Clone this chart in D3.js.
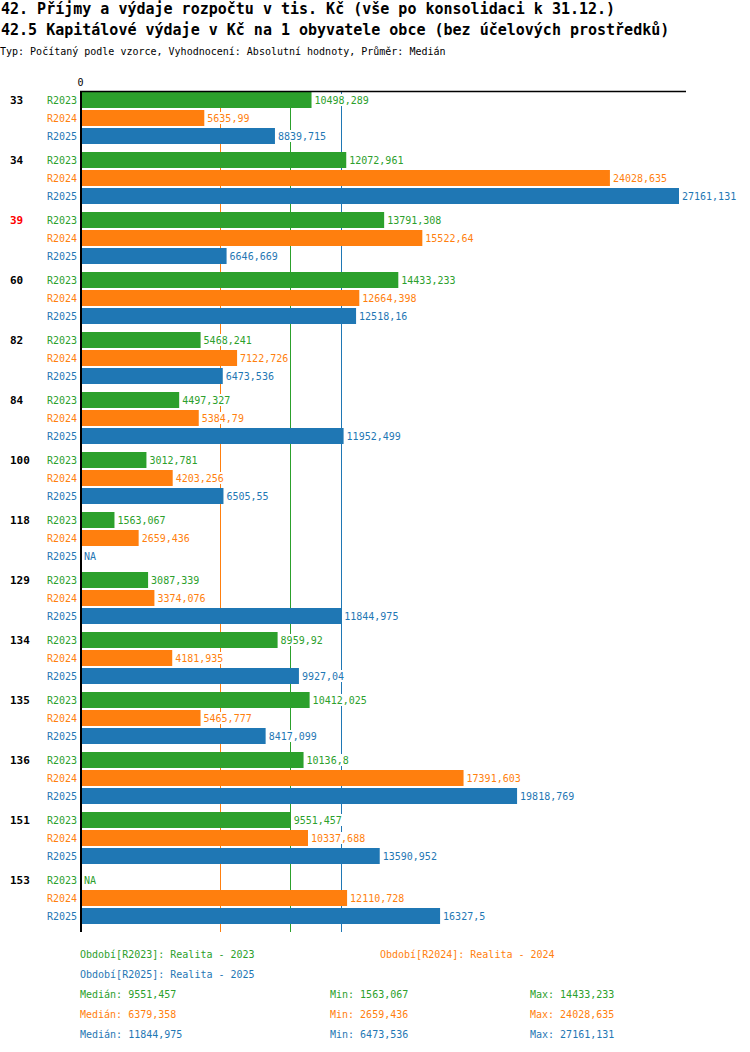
<!DOCTYPE html>
<html>
<head>
<meta charset="utf-8">
<script src="https://cdn.jsdelivr.net/npm/d3@7"></script>
<style>
  body { margin: 0; background: #fff; }
  svg text { font-family: "DejaVu Sans Mono", "Liberation Mono", monospace; }
</style>
</head>
<body>
<svg id="chart" width="750" height="1052"></svg>
<script>
const groups = ['33', '34', '39', '60', '82', '84', '100', '118', '129', '134', '135', '136', '151', '153'];
const highlighted = ['39'];
const periods = ['R2023', 'R2024', 'R2025'];
const periodNames = ['Realita - 2023', 'Realita - 2024', 'Realita - 2025'];
const r2023 = [10498.289, 12072.961, 13791.308, 14433.233, 5468.241, 4497.327, 3012.781, 1563.067, 3087.339, 8959.92, 10412.025, 10136.8, 9551.457, null];
const r2024 = [5635.99, 24028.635, 15522.64, 12664.398, 7122.726, 5384.79, 4203.256, 2659.436, 3374.076, 4181.935, 5465.777, 17391.603, 10337.688, 12110.728];
const r2025 = [8839.715, 27161.131, 6646.669, 12518.16, 6473.536, 11952.499, 6505.55, null, 11844.975, 9927.04, 8417.099, 19818.769, 13590.952, 16327.5];
const seriesValues = [r2023, r2024, r2025];
const colors = ['#2ca02c', '#ff7f0e', '#1f77b4'];

const svg = d3.select('#chart');
const fmt = v => String(+v.toFixed(3)).replace('.', ',');

// titles
svg.append('text').attr('x', 1).attr('y', 14).attr('font-size', 15).attr('font-weight', 'bold')
  .text('42. Příjmy a výdaje rozpočtu v tis. Kč (vše po konsolidaci k 31.12.)');
svg.append('text').attr('x', 1).attr('y', 35).attr('font-size', 15).attr('font-weight', 'bold')
  .text('42.5 Kapitálové výdaje v Kč na 1 obyvatele obce (bez účelových prostředků)');
svg.append('text').attr('x', 0).attr('y', 55).attr('font-size', 10)
  .text('Typ: Počítaný podle vzorce, Vyhodnocení: Absolutní hodnoty, Průměr: Medián');

const xMax = d3.max(seriesValues.flat());
const x = d3.scaleLinear().domain([0, xMax]).range([80, 679]);
const y0 = d3.scaleBand().domain(groups).range([92, 932]);
const y1 = d3.scaleBand().domain(periods).range([0, 54]);
const barH = y1.bandwidth() - 2;

const stats = seriesValues.map((vals, i) => {
  const v = vals.filter(d => d != null);
  return { median: d3.median(v), min: d3.min(v), max: d3.max(v), color: colors[i] };
});

// median lines
const medianLines = svg.append('g').attr('class', 'medians');
stats.forEach(s => {
  const mx = Math.floor(x(s.median)) + 0.5;
  medianLines.append('line')
    .attr('x1', mx).attr('x2', mx)
    .attr('y1', 92).attr('y2', 932)
    .attr('shape-rendering', 'crispEdges')
    .style('stroke', s.color)
    .style('stroke-width', '1px');
});

// "0" tick via axis
const axis = svg.append('g').attr('transform', 'translate(0,86)')
  .call(d3.axisTop(x).tickValues([0]).tickSize(0).tickPadding(0));
axis.select('.domain').remove();
axis.selectAll('text').attr('font-size', 10).attr('font-family', '"DejaVu Sans Mono", monospace').attr('fill', '#000');

const rows = groups.flatMap((g, gi) => periods.map((p, pi) => ({
  group: g, period: p, pi, value: seriesValues[pi][gi]
})));

// bars
svg.append('g').selectAll('rect')
  .data(rows.filter(d => d.value != null))
  .join('rect')
  .attr('x', x(0))
  .attr('y', d => y0(d.group) + y1(d.period))
  .attr('width', d => x(d.value) - x(0))
  .attr('height', barH)
  .attr('fill', d => colors[d.pi]);

// value labels with white background
const labels = svg.append('g').selectAll('g')
  .data(rows)
  .join('g')
  .attr('transform', d => `translate(${d.value != null ? x(d.value) + 3 : x(0) + 4},${y0(d.group) + y1(d.period) + barH / 2})`);
labels.append('rect')
  .attr('x', -1).attr('y', -6).attr('height', 12)
  .attr('width', d => (d.value != null ? fmt(d.value) : 'NA').length * 6.02 + 2)
  .attr('fill', '#fff');
labels.append('text')
  .attr('font-size', 10)
  .attr('dy', '0.35em')
  .attr('fill', d => colors[d.pi])
  .text(d => d.value != null ? fmt(d.value) : 'NA');

// period labels
svg.append('g').selectAll('text')
  .data(rows)
  .join('text')
  .attr('x', 77)
  .attr('y', d => y0(d.group) + y1(d.period) + barH / 2)
  .attr('dy', '0.35em')
  .attr('text-anchor', 'end')
  .attr('font-size', 10)
  .attr('fill', d => colors[d.pi])
  .text(d => d.period);

// group labels
svg.append('g').selectAll('text')
  .data(groups)
  .join('text')
  .attr('x', 10)
  .attr('y', d => y0(d) + barH / 2)
  .attr('dy', '0.35em')
  .attr('font-size', 11)
  .attr('font-weight', 'bold')
  .attr('fill', d => highlighted.includes(d) ? '#ff0000' : '#000')
  .text(d => d);

// axis lines
svg.append('line').attr('x1', 80).attr('x2', 686).attr('y1', 91.5).attr('y2', 91.5)
  .attr('stroke', '#000').attr('stroke-width', 1.5);
svg.append('line').attr('x1', 81).attr('x2', 81).attr('y1', 91).attr('y2', 932)
  .attr('stroke', '#000').attr('stroke-width', 2);

// legend
const legendPos = [[80, 954], [380, 954], [80, 974]];
svg.append('g').selectAll('text')
  .data(periods)
  .join('text')
  .attr('x', (d, i) => legendPos[i][0])
  .attr('y', (d, i) => legendPos[i][1])
  .attr('dy', '0.35em')
  .attr('font-size', 10)
  .attr('fill', (d, i) => colors[i])
  .text((d, i) => `Období[${d}]: ${periodNames[i]}`);

const statRows = svg.append('g').selectAll('g')
  .data(stats)
  .join('g')
  .attr('transform', (d, i) => `translate(0,${994 + i * 20})`)
  .attr('fill', d => d.color);
statRows.append('text').attr('x', 80).attr('dy', '0.35em').attr('font-size', 10).text(d => `Medián: ${fmt(d.median)}`);
statRows.append('text').attr('x', 330).attr('dy', '0.35em').attr('font-size', 10).text(d => `Min: ${fmt(d.min)}`);
statRows.append('text').attr('x', 530).attr('dy', '0.35em').attr('font-size', 10).text(d => `Max: ${fmt(d.max)}`);
</script>
</body>
</html>
